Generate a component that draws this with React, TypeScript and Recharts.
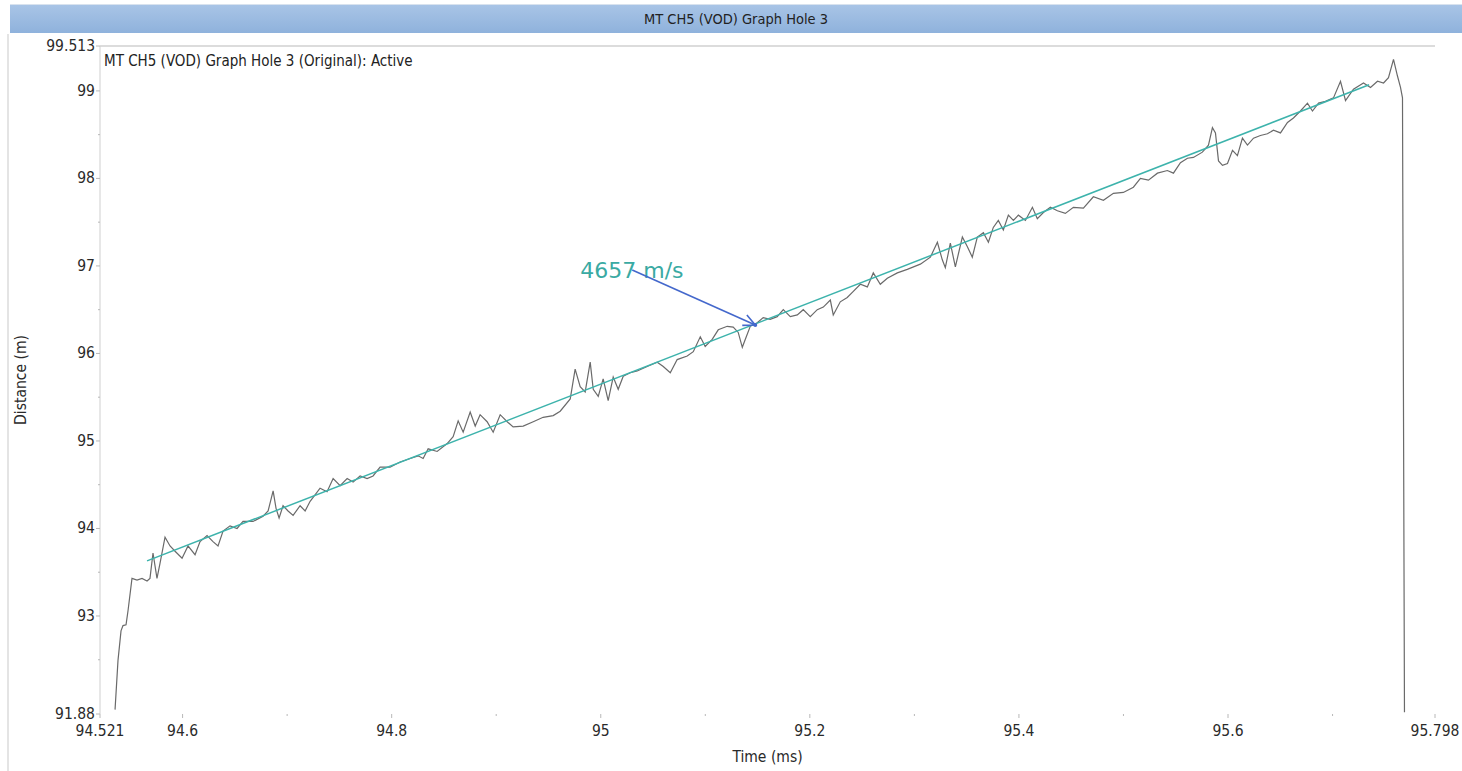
import React from 'react';
import { LineChart, Line, XAxis, YAxis, ReferenceLine } from 'recharts';

// measured trace (time in ms, distance in m)
const traceTime = [
  94.5354, 94.5382, 94.5411, 94.5430, 94.5459, 94.5478, 94.5516, 94.5564, 94.5612, 94.5660,
  94.5688, 94.5717, 94.5755, 94.5784, 94.5832, 94.5880, 94.5928, 94.5995, 94.6052, 94.6119,
  94.6167, 94.6234, 94.6291, 94.6339, 94.6387, 94.6454, 94.6521, 94.6578, 94.6674, 94.6770,
  94.6818, 94.6866, 94.6894, 94.6923, 94.6961, 94.7009, 94.7057, 94.7124, 94.7172, 94.7220,
  94.7315, 94.7382, 94.7440, 94.7507, 94.7574, 94.7631, 94.7698, 94.7765, 94.7822, 94.7889,
  94.7985, 94.8081, 94.8177, 94.8253, 94.8301, 94.8349, 94.8435, 94.8531, 94.8588, 94.8636,
  94.8684, 94.8751, 94.8799, 94.8846, 94.8913, 94.8971, 94.9038, 94.9105, 94.9162, 94.9258,
  94.9354, 94.9449, 94.9545, 94.9612, 94.9708, 94.9755, 94.9803, 94.9851, 94.9899, 94.9928,
  94.9976, 95.0023, 95.0071, 95.0119, 95.0167, 95.0215, 95.0282, 95.0349, 95.0444, 95.0540,
  95.0598, 95.0665, 95.0731, 95.0827, 95.0885, 95.0952, 95.0999, 95.1066, 95.1124, 95.1210,
  95.1267, 95.1315, 95.1354, 95.1382, 95.1430, 95.1497, 95.1554, 95.1621, 95.1688, 95.1746,
  95.1813, 95.1880, 95.1937, 95.2004, 95.2071, 95.2129, 95.2196, 95.2224, 95.2291, 95.2358,
  95.2416, 95.2483, 95.2550, 95.2607, 95.2674, 95.2741, 95.2837, 95.2932, 95.3057, 95.3153,
  95.3220, 95.3267, 95.3296, 95.3344, 95.3392, 95.3459, 95.3507, 95.3554, 95.3602, 95.3660,
  95.3708, 95.3755, 95.3803, 95.3851, 95.3899, 95.3947, 95.3995, 95.4062, 95.4129, 95.4176,
  95.4234, 95.4301, 95.4368, 95.4444, 95.4521, 95.4617, 95.4712, 95.4808, 95.4904, 95.4999,
  95.5095, 95.5162, 95.5239, 95.5325, 95.5420, 95.5478, 95.5545, 95.5612, 95.5669, 95.5755,
  95.5813, 95.5851, 95.5880, 95.5909, 95.5947, 95.5995, 95.6043, 95.6090, 95.6138, 95.6186,
  95.6244, 95.6310, 95.6377, 95.6435, 95.6502, 95.6569, 95.6626, 95.6693, 95.6760, 95.6808,
  95.6866, 95.6932, 95.7009, 95.7076, 95.7124, 95.7200, 95.7296, 95.7363, 95.7430, 95.7488,
  95.7535, 95.7583, 95.7621, 95.7650, 95.7669, 95.7688,
];

const traceDist = [
  91.93, 92.49, 92.83, 92.89, 92.90, 93.06, 93.43, 93.41, 93.43, 93.40,
  93.43, 93.72, 93.43, 93.60, 93.90, 93.80, 93.74, 93.66, 93.80, 93.70,
  93.85, 93.92, 93.85, 93.80, 93.97, 94.03, 94.00, 94.08, 94.08, 94.14,
  94.20, 94.43, 94.23, 94.12, 94.26, 94.20, 94.15, 94.26, 94.20, 94.31,
  94.46, 94.42, 94.57, 94.49, 94.57, 94.53, 94.60, 94.57, 94.60, 94.70,
  94.70, 94.76, 94.80, 94.83, 94.80, 94.91, 94.88, 94.97, 95.05, 95.23,
  95.10, 95.33, 95.17, 95.30, 95.22, 95.10, 95.30, 95.22, 95.16, 95.17,
  95.22, 95.27, 95.29, 95.34, 95.48, 95.82, 95.62, 95.56, 95.90, 95.59,
  95.51, 95.71, 95.46, 95.73, 95.59, 95.74, 95.78, 95.80, 95.85, 95.90,
  95.85, 95.78, 95.93, 95.97, 96.02, 96.19, 96.08, 96.16, 96.27, 96.31,
  96.30, 96.24, 96.07, 96.16, 96.31, 96.35, 96.41, 96.39, 96.42, 96.50,
  96.42, 96.44, 96.50, 96.42, 96.50, 96.53, 96.61, 96.44, 96.59, 96.64,
  96.71, 96.79, 96.76, 96.92, 96.79, 96.86, 96.92, 96.96, 97.02, 97.10,
  97.27, 97.07, 96.98, 97.26, 96.99, 97.33, 97.22, 97.10, 97.33, 97.38,
  97.27, 97.44, 97.52, 97.41, 97.58, 97.52, 97.58, 97.52, 97.67, 97.54,
  97.61, 97.67, 97.63, 97.60, 97.67, 97.66, 97.79, 97.75, 97.83, 97.84,
  97.90, 98.00, 97.98, 98.06, 98.09, 98.06, 98.18, 98.23, 98.24, 98.30,
  98.38, 98.58, 98.52, 98.20, 98.15, 98.17, 98.32, 98.26, 98.46, 98.38,
  98.46, 98.49, 98.51, 98.55, 98.52, 98.64, 98.69, 98.77, 98.86, 98.77,
  98.86, 98.88, 98.92, 99.11, 98.89, 99.02, 99.09, 99.04, 99.11, 99.09,
  99.15, 99.36, 99.17, 99.04, 98.92, 91.90,
];

// fitted velocity line
const fitTime = [94.566, 95.735];
const fitDist = [93.63, 99.07];

// velocity annotation (arrow from label to line)
const arrowTime = [95.0301, 95.1478];
const arrowDist = [96.953, 96.325];
const velocityLabel = '4657 m/s';

const xTicks = [94.521, 94.6, 94.7, 94.8, 94.9, 95, 95.1, 95.2, 95.3, 95.4, 95.5, 95.6, 95.7, 95.798];
const xMinor = [94.7, 94.9, 95.1, 95.3, 95.5, 95.7];
const yTicks = [91.88, 92.5, 93, 93.5, 94, 94.5, 95, 95.5, 96, 96.5, 97, 97.5, 98, 98.5, 99, 99.513];
const yMinor = [92.5, 93.5, 94.5, 95.5, 96.5, 97.5, 98.5];

const traceData = traceTime.map((t, i) => ({ t, d: traceDist[i] }));
const fitData = fitTime.map((t, i) => ({ t, d: fitDist[i] }));

const FONT = '"DejaVu Sans Condensed", "Liberation Sans", sans-serif';

const YTick = (props: any) => {
  const { x, y, payload } = props;
  const minor = yMinor.includes(payload.value);
  return (
    <g>
      <line x1={x - (minor ? 2 : 4)} x2={x} y1={y} y2={y} stroke="#b8b8b8" />
      {!minor && (
        <text x={x - 5} y={y} dy={5} textAnchor="end" fontSize={15.5} fill="#2a2a2a" fontFamily={FONT}>
          {payload.value}
        </text>
      )}
    </g>
  );
};

const XTick = (props: any) => {
  const { x, y, payload } = props;
  const minor = xMinor.includes(payload.value);
  return (
    <g>
      <line x1={x} x2={x} y1={y} y2={y + (minor ? 2 : 4)} stroke="#b8b8b8" />
      {!minor && (
        <text x={x} y={y + 22} textAnchor="middle" fontSize={15.5} fill="#2a2a2a" fontFamily={FONT}>
          {payload.value}
        </text>
      )}
    </g>
  );
};

const ArrowShape = (props: any) => {
  const { x1, y1, x2, y2 } = props;
  const a = Math.atan2(y2 - y1, x2 - x1);
  const len = 13;
  const p1 = [x2 - len * Math.cos(a - 0.45), y2 - len * Math.sin(a - 0.45)];
  const p2 = [x2 - len * Math.cos(a + 0.45), y2 - len * Math.sin(a + 0.45)];
  return (
    <g>
      <text x={x1 - 52} y={y1 + 8} fontSize={22} fill="#3aaaa3" fontFamily='"DejaVu Sans", sans-serif'>
        {velocityLabel}
      </text>
      <line x1={x1} y1={y1} x2={x2} y2={y2} stroke="#4468cc" strokeWidth={1.6} />
      <polyline points={`${p1[0]},${p1[1]} ${x2},${y2} ${p2[0]},${p2[1]}`} fill="none" stroke="#4468cc" strokeWidth={1.6} />
      <circle cx={x2} cy={y2} r={2} fill="#4468cc" />
    </g>
  );
};

const App: React.FC = () => {
  return (
    <div style={{ position: 'absolute', left: 0, top: 0, width: 1462, height: 771, background: '#fff', overflow: 'hidden' }}>
      <div style={{ position: 'absolute', left: 7, top: 34, width: 2, height: 737, background: '#e4e4e4' }} />
      <LineChart width={1462} height={771} data={traceData} margin={{ top: 46, right: 27, bottom: 6, left: 8 }}>
        <XAxis
          dataKey="t"
          type="number"
          domain={[94.521, 95.798]}
          allowDataOverflow
          ticks={xTicks}
          interval={0}
          axisLine={false}
          tickLine={false}
          tickSize={0}
          tickMargin={0}
          height={51}
          tick={<XTick />}
          label={{
            content: (p: any) => (
              <text x={p.viewBox.x + p.viewBox.width / 2} y={p.viewBox.y + 48} textAnchor="middle" fontSize={15.5} fill="#2a2a2a" fontFamily={FONT}>
                Time (ms)
              </text>
            ),
          }}
        />
        <YAxis
          dataKey="d"
          type="number"
          domain={[91.88, 99.513]}
          allowDataOverflow
          ticks={yTicks}
          interval={0}
          width={92}
          axisLine={{ stroke: '#cfcfcf' }}
          tickLine={false}
          tickSize={0}
          tickMargin={0}
          tick={<YTick />}
          label={{
            content: (p: any) => {
              const cx = 26;
              const cy = p.viewBox.y + p.viewBox.height / 2;
              return (
                <text x={cx} y={cy} textAnchor="middle" transform={`rotate(-90 ${cx} ${cy})`} fontSize={15.5} fill="#2a2a2a" fontFamily={FONT}>
                  Distance (m)
                </text>
              );
            },
          }}
        />
        <ReferenceLine y={99.513} stroke="#dcdcdc" strokeWidth={2} />
        <Line
          data={traceData}
          dataKey="d"
          type="linear"
          stroke="#6a6a6a"
          strokeWidth={1.2}
          dot={false}
          activeDot={false}
          isAnimationActive={false}
        />
        <Line
          data={fitData}
          dataKey="d"
          type="linear"
          stroke="#3db3ac"
          strokeWidth={1.5}
          dot={false}
          activeDot={false}
          isAnimationActive={false}
        />
        <ReferenceLine
          segment={[
            { x: arrowTime[0], y: arrowDist[0] },
            { x: arrowTime[1], y: arrowDist[1] },
          ]}
          shape={ArrowShape}
        />
      </LineChart>
      <div
        style={{
          position: 'absolute', left: 10, top: 4, right: 0, height: 28,
          background: 'linear-gradient(#a8c4e6, #8fb2dc)', borderTop: '1px solid #d8e2ee',
          textAlign: 'center', lineHeight: '28px', fontSize: 14.5, color: '#222', fontFamily: FONT,
        }}
      >
        MT CH5 (VOD) Graph Hole 3
      </div>
      <div style={{ position: 'absolute', left: 104, top: 52, fontSize: 15, color: '#222', fontFamily: FONT, whiteSpace: 'nowrap' }}>
        MT CH5 (VOD) Graph Hole 3 (Original): Active
      </div>
    </div>
  );
};

export default App;
